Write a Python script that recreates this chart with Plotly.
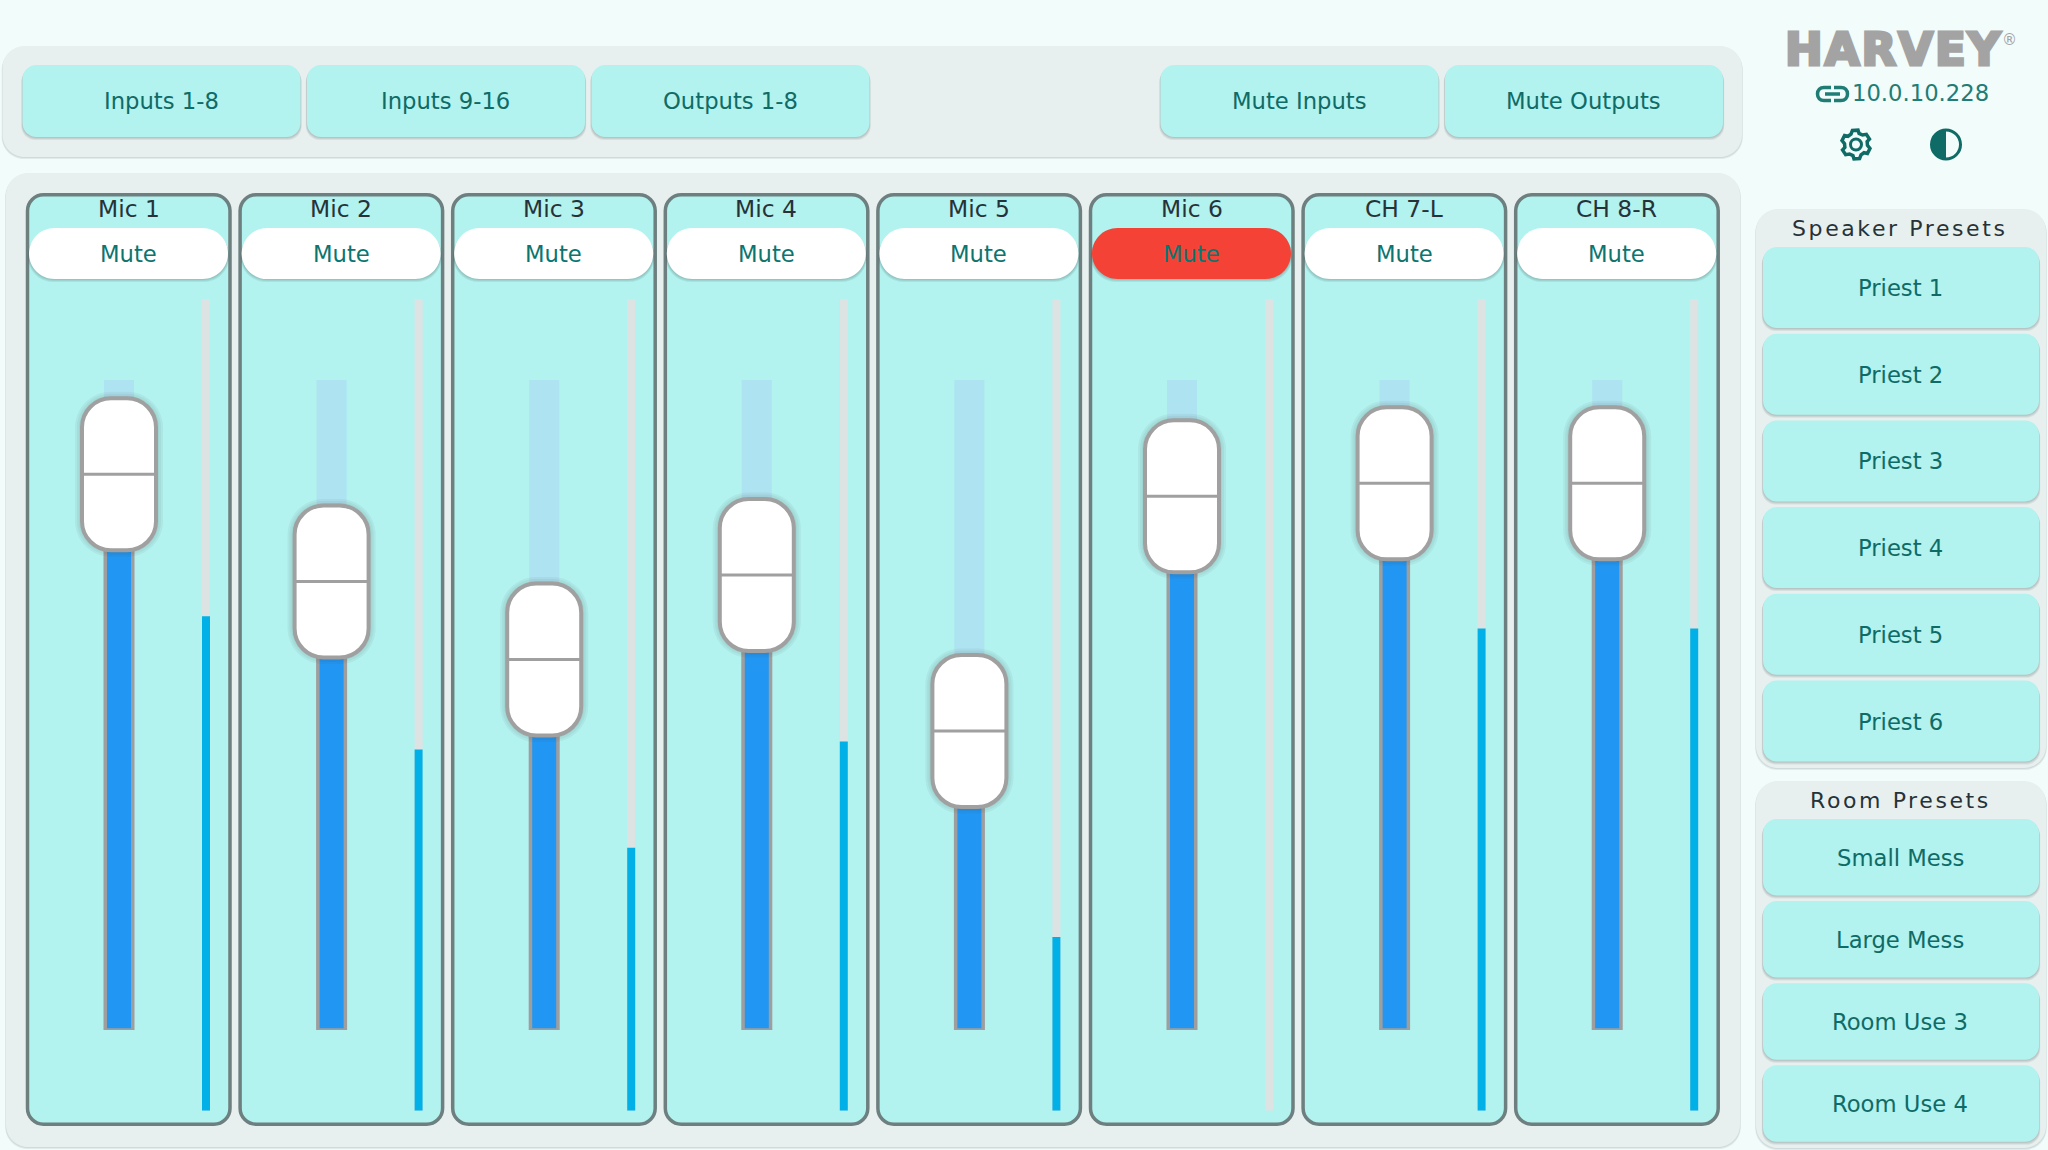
import math
import plotly.graph_objects as go

W, H = 2048, 1150

# values
channels = ["Mic 1", "Mic 2", "Mic 3", "Mic 4", "Mic 5", "Mic 6", "CH 7-L", "CH 8-R"]
channel_idx = [0, 1, 2, 3, 4, 5, 6, 7]
fader_levels = [85.5, 69, 57, 70, 46, 82.1, 84.1, 84.1]
fader_max = [100, 100, 100, 100, 100, 100, 100, 100]
meter_levels = [60.9, 44.5, 32.4, 45.5, 21.4, 0, 59.4, 59.4]
muted = ["Mic 6"]
top_left_buttons = ["Inputs 1-8", "Inputs 9-16", "Outputs 1-8"]
top_right_buttons = ["Mute Inputs", "Mute Outputs"]
speaker_presets = ["Priest 1", "Priest 2", "Priest 3", "Priest 4", "Priest 5", "Priest 6"]
room_presets = ["Small Mess", "Large Mess", "Room Use 3", "Room Use 4"]

PITCH = 212.6
TRACK_X = 119
TRACK_TOP, TRACK_BOTTOM = 380, 1030
METER_TOP, METER_BOTTOM = 299, 1110.7

BG = "#f2fcfb"
PANEL = "#e7f0ef"
BUTTON = "#b2f2ef"
TEAL = "#0f6b66"
MUTE_TEXT = "#0b7570"
DARK = "#263238"
K = 0.5523


def px(x):
    return x / W


def py(y):
    return 1 - y / H


def rrect(x0, y0, x1, y1, r, cx=px, cy=py):
    k = r * (1 - K)
    pts = [
        ("M", (x0 + r, y0)), ("L", (x1 - r, y0)),
        ("C", (x1 - k, y0), (x1, y0 + k), (x1, y0 + r)),
        ("L", (x1, y1 - r)),
        ("C", (x1, y1 - k), (x1 - k, y1), (x1 - r, y1)),
        ("L", (x0 + r, y1)),
        ("C", (x0 + k, y1), (x0, y1 - k), (x0, y1 - r)),
        ("L", (x0, y0 + r)),
        ("C", (x0, y0 + k), (x0 + k, y0), (x0 + r, y0)),
    ]
    out = []
    for seg in pts:
        out.append(seg[0] + " ".join(f"{cx(p[0]):.6f},{cy(p[1]):.6f}" for p in seg[1:]))
    return " ".join(out) + " Z"


shapes = []
annotations = []


def box(x0, y0, x1, y1, r, fill, line=None, lw=0, shadow=0):
    # soft drop shadow is just a few faint copies underneath
    for i in range(shadow, 0, -1):
        shapes.append(dict(
            type="path", xref="paper", yref="paper", layer="below",
            path=rrect(x0 - i * 0.4, y0 + i, x1 + i * 0.4, y1 + i, r),
            fillcolor="rgba(40,70,70,0.09)", line=dict(width=0),
        ))
    shapes.append(dict(
        type="path", xref="paper", yref="paper", layer="below",
        path=rrect(x0, y0, x1, y1, r), fillcolor=fill,
        line=dict(width=lw, color=line) if lw else dict(width=0),
    ))


def label(x, y, text, size=22.7, color=TEAL, spacing=None, extra=""):
    if spacing is not None:
        text = f'<span style="letter-spacing:{spacing}px;{extra}">{text}</span>'
    annotations.append(dict(
        x=px(x), y=py(y), xref="paper", yref="paper", text=text, showarrow=False,
        xanchor="center", yanchor="middle", font=dict(family="DejaVu Sans", size=size, color=color),
    ))


def line_path(points, close=False):
    s = "M" + " L".join(f"{px(a):.6f},{py(b):.6f}" for a, b in points)
    return s + (" Z" if close else "")


# top bar
box(2.5, 46, 1742, 157, 22, PANEL, shadow=2)
for i, name in enumerate(top_left_buttons):
    x0 = 22.5 + i * 284.5
    box(x0, 65, x0 + 278, 137, 14, BUTTON, shadow=3)
    label(x0 + 138.5, 101, name)
for i, name in enumerate(top_right_buttons):
    x0 = 1160.5 + i * 284.5
    box(x0, 65, x0 + 278, 137, 14, BUTTON, shadow=3)
    label(x0 + 138.5, 101, name)

# channel strips
box(6, 173, 1740, 1147, 22, PANEL, shadow=2)
for i, name in enumerate(channels):
    x0 = 26 + i * PITCH
    box(x0 + 1.5, 194.75, x0 + 204, 1124.25, 16, BUTTON, line="#6d7f7f", lw=3.5)
    label(x0 + 102.5, 209.3, name, size=23.4, color=DARK)
    box(x0 + 3, 228, x0 + 202, 279, 25.5, "#f44336" if name in muted else "#ffffff", shadow=3)
    label(x0 + 102.5, 254, "Mute", color=MUTE_TEXT)

# faders sit on the level axis, so thumb position follows the data
same = lambda v: v
for idx, level in zip(channel_idx, fader_levels):
    base = dict(type="path", xref="x", yref="y", xsizemode="pixel", ysizemode="pixel",
                xanchor=idx, yanchor=level, layer="above")
    for grow in (5, 3, 1):
        shapes.append(dict(
            base, path=rrect(-39 - grow, -77.5 - grow, 39 + grow, 77.5 + grow, 31 + grow, same, same),
            fillcolor="rgba(60,60,60,0.06)", line=dict(width=0),
        ))
    shapes.append(dict(
        base, path=rrect(-37, -76, 37, 76, 29, same, same),
        fillcolor="#ffffff", line=dict(width=4, color="#a0a0a0"),
    ))
    shapes.append(dict(base, path="M-36,0 L36,0", line=dict(width=3, color="#a0a0a0")))

# right column
box(1756, 209, 2046, 768, 22, PANEL, shadow=2)
label(1900, 228, "Speaker Presets", size=22, color=DARK, spacing=2.6)
for i, name in enumerate(speaker_presets):
    y0 = 247 + i * 86.7
    box(1763, y0, 2039, y0 + 81, 14, BUTTON, shadow=3)
    label(1900, y0 + 41, name)

box(1756, 781, 2046, 1148, 22, PANEL, shadow=2)
label(1900, 800, "Room Presets", size=22, color=DARK, spacing=2.6)
for i, name in enumerate(room_presets):
    y0 = 819 + i * 82.1
    box(1763, y0, 2039, y0 + 76.5, 14, BUTTON, shadow=3)
    label(1900, y0 + 38.5, name)

# logo and status
label(1893, 49, "<b>HARVEY</b>", size=45, color="#a3a3a3", spacing=2, extra="stroke:#a3a3a3;stroke-width:3px;")
label(2009, 40, "®", size=15, color="#a3a3a3")
label(1920, 93, "10.0.10.228", color="#1f7d76")

link = "#1f7d76"
shapes.append(dict(type="path", xref="paper", yref="paper", layer="below", line=dict(width=3.5, color=link), path=(
    f"M{px(1831)},{py(87.5)} L{px(1824)},{py(87.5)} "
    f"C{px(1820)},{py(87.5)} {px(1817.5)},{py(90)} {px(1817.5)},{py(94)} "
    f"C{px(1817.5)},{py(98)} {px(1820)},{py(100.5)} {px(1824)},{py(100.5)} L{px(1831)},{py(100.5)}"
)))
shapes.append(dict(type="path", xref="paper", yref="paper", layer="below", line=dict(width=3.5, color=link), path=(
    f"M{px(1834)},{py(87.5)} L{px(1841)},{py(87.5)} "
    f"C{px(1845)},{py(87.5)} {px(1847.5)},{py(90)} {px(1847.5)},{py(94)} "
    f"C{px(1847.5)},{py(98)} {px(1845)},{py(100.5)} {px(1841)},{py(100.5)} L{px(1834)},{py(100.5)}"
)))
shapes.append(dict(type="path", xref="paper", yref="paper", layer="below", line=dict(width=3.5, color=link),
                   path=line_path([(1825, 94), (1840, 94)])))

# gear icon
gear = []
gx, gy = 1856, 144.5
for t in range(6):
    a = math.radians(t * 60 - 90)
    for off, rad in [(-0.45, 11.5), (-0.25, 14.5), (0.14, 14.5), (0.27, 11.5)]:
        gear.append((gx + rad * math.cos(a + off), gy + rad * math.sin(a + off)))
shapes.append(dict(type="path", xref="paper", yref="paper", layer="below", path=line_path(gear, True),
                   fillcolor="rgba(0,0,0,0)", line=dict(width=3.5, color=TEAL)))
shapes.append(dict(type="circle", xref="paper", yref="paper", layer="below",
                   x0=px(gx - 5.5), x1=px(gx + 5.5), y0=py(gy - 5.5), y1=py(gy + 5.5),
                   fillcolor="rgba(0,0,0,0)", line=dict(width=3, color=TEAL)))

# contrast icon
cx0, cy0, rad = 1946, 144.5, 14.5
c = rad * K
shapes.append(dict(type="circle", xref="paper", yref="paper", layer="below",
                   x0=px(cx0 - rad), x1=px(cx0 + rad), y0=py(cy0 - rad), y1=py(cy0 + rad),
                   fillcolor="rgba(0,0,0,0)", line=dict(width=3, color=TEAL)))
shapes.append(dict(type="path", xref="paper", yref="paper", layer="below", fillcolor=TEAL, line=dict(width=0), path=(
    f"M{px(cx0)},{py(cy0 - rad)} "
    f"C{px(cx0 - c)},{py(cy0 - rad)} {px(cx0 - rad)},{py(cy0 - c)} {px(cx0 - rad)},{py(cy0)} "
    f"C{px(cx0 - rad)},{py(cy0 + c)} {px(cx0 - c)},{py(cy0 + rad)} {px(cx0)},{py(cy0 + rad)} Z"
)))

fig = go.Figure()
# fader track: pale full range, blue up to the level
fig.add_trace(go.Bar(x=channel_idx, y=fader_max, width=30 / PITCH, marker=dict(color="#aee3f1", line=dict(width=0))))
fig.add_trace(go.Bar(x=channel_idx, y=fader_levels, width=27.5 / PITCH,
                     marker=dict(color="#2196f3", line=dict(width=3.5, color="#9e9e9e"))))
# level meters, on their own axis (separate domain, so not overlaying y)
meter_offset = (202 - TRACK_X) / PITCH
fig.add_trace(go.Bar(x=channel_idx, y=fader_max, yaxis="y2", width=8 / PITCH, offset=meter_offset,
                     marker=dict(color="#dde3e3", line=dict(width=0))))
fig.add_trace(go.Bar(x=channel_idx, y=meter_levels, yaxis="y2", width=8 / PITCH, offset=meter_offset,
                     marker=dict(color="#00b0e6", line=dict(width=0))))

x_left = TRACK_X - PITCH / 2
fig.update_layout(
    width=W,
    height=H,
    margin=dict(l=0, r=0, t=0, b=0),
    paper_bgcolor=BG,
    plot_bgcolor="rgba(0,0,0,0)",
    barmode="overlay",
    showlegend=False,
    hovermode=False,
    font=dict(family="DejaVu Sans", size=22, color=TEAL),
    xaxis=dict(visible=False, fixedrange=True, range=[-0.5, 7.5],
               domain=[x_left / W, (x_left + 8 * PITCH) / W]),
    yaxis=dict(visible=False, fixedrange=True, range=[0, 100],
               domain=[1 - TRACK_BOTTOM / H, 1 - TRACK_TOP / H]),
    yaxis2=dict(visible=False, fixedrange=True, range=[0, 100], anchor="x",
                domain=[1 - METER_BOTTOM / H, 1 - METER_TOP / H]),
    shapes=shapes,
    annotations=annotations,
)

fig.write_html("out.html", config=dict(displayModeBar=False),
               post_script="document.body.style.margin='0';document.body.style.overflow='hidden';")
